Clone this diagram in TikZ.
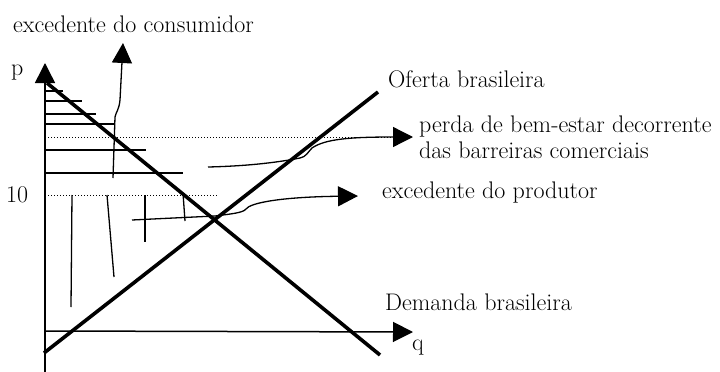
\documentclass[tikz,border=0pt]{standalone}
\usetikzlibrary{arrows.meta,positioning}

\begin{document}
\begin{tikzpicture}
  [
    x=1pt, y=-1pt,
    txt/.style={anchor=base west, inner sep=0pt, font=\fontsize{24}{26}\selectfont},
    axis/.style={line width=1.5pt, -{Triangle[length=20pt,width=20pt]}},
    market/.style={line width=3.6pt},
    hatch/.style={line width=1.3pt},
    guide/.style={line width=1pt, dash pattern=on 1pt off 2pt},
    pointer/.style={line width=1.3pt, -{Triangle[length=20pt,width=20pt]}}
  ]
  \useasboundingbox (0,0) rectangle (720,372);

  \node (cons) [txt] at (13,32) {excedente do consumidor};
  \node (p) [txt] at (11,75) {p};
  \node (ten) [txt] at (6,202) {10};
  \node (oferta) [txt] at (388,87) {Oferta brasileira};
  \node (perda) [txt, anchor=west, align=left] at (419,137) {perda de bem-estar decorrente\\das barreiras comerciais};
  \node (prod) [txt] at (382,198) {excedente do produtor};
  \node (demanda) [txt] at (385,310) {Demanda brasileira};
  \node (q) [txt] at (412,350) {q};

  \coordinate (ybot) at (45,372);
  \coordinate (ytop) at (45,63);
  \coordinate (O) at (45,331);
  \coordinate (xend) at (413,332);
  \coordinate (D1) at (47,83);
  \coordinate (D2) at (380,355);
  \coordinate (S1) at (44,353);
  \coordinate (S2) at (378,92);

  \draw [axis] (ybot) -- (ytop);
  \draw [axis] (O) -- (xend);
  \draw [market] (D1) -- (D2);
  \draw [market] (S1) -- (S2);

  \draw [guide] (45,137) -- (395,137);
  \draw [guide] (48,195) -- (218,195);

  \foreach \y/\x in {91/63, 101/82, 114/96, 124/114, 150/146, 173/183}
    \draw [hatch] (45,\y) -- (\x,\y);
  \draw [hatch] (72,195) -- (71,307);
  \draw [hatch] (107,195) -- (114,277);
  \draw [hatch] (145,195) -- (145,242);
  \draw [hatch] (183,193) -- (185,221);

  \coordinate (csfrom) at (113,178);
  \coordinate (csto) at (123,43);
  \coordinate (lossfrom) at (208,167);
  \coordinate (lossto) at (413,137);
  \coordinate (psfrom) at (132,220);
  \coordinate (psto) at (358,196);

  \draw [pointer] (csfrom) -- (115,117) .. controls (116,112) and (119,110) .. (120,100) -- (csto);
  \draw [pointer] (lossfrom) .. controls (250,166) and (280,162) .. (300,158)
    .. controls (306,157) and (308,152) .. (312,148)
    .. controls (325,139) and (350,137) .. (lossto);
  \draw [pointer] (psfrom) -- (215,216) .. controls (230,214) and (243,213) .. (246,209)
    .. controls (250,203) and (280,197) .. (psto);
\end{tikzpicture}
\end{document}
